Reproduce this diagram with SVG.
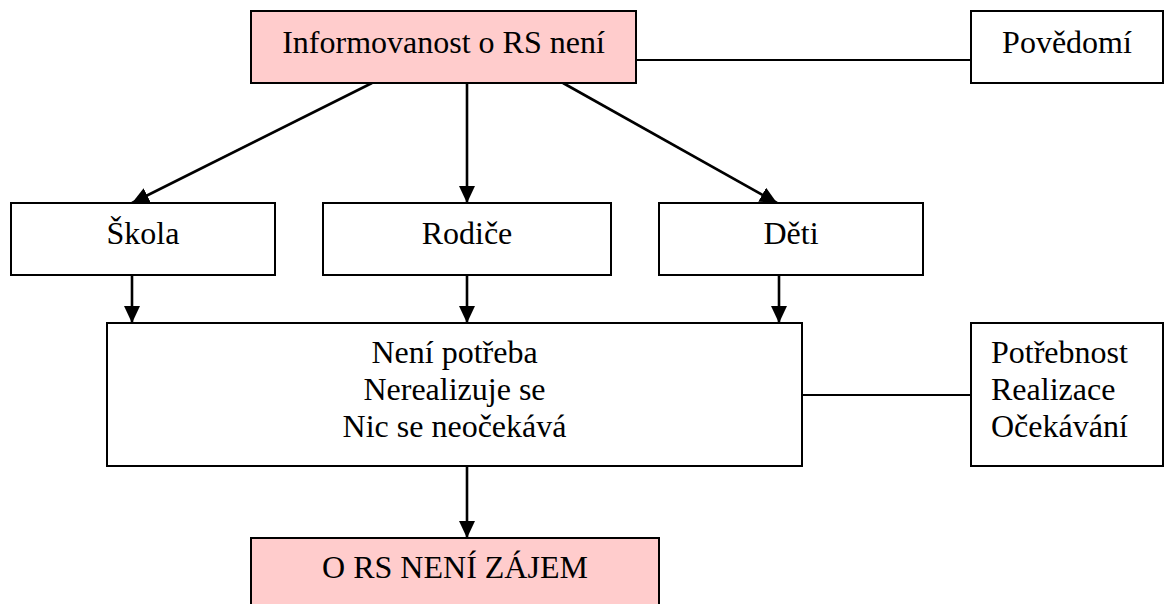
<svg xmlns="http://www.w3.org/2000/svg" width="1165" height="604" viewBox="0 0 1165 604">
<style>
.box{fill:#ffffff;stroke:#000;stroke-width:2}
.pink{fill:#ffcccc;stroke:#000;stroke-width:2}
.t{font-family:"Liberation Serif","Times New Roman",serif;font-size:32px;fill:#000}
.c{text-anchor:middle}
.arr{stroke:#000;stroke-width:2.6;fill:none;marker-end:url(#ah)}
.ln{stroke:#000;stroke-width:2;fill:none}
</style>
<defs>
<marker id="ah" markerUnits="userSpaceOnUse" markerWidth="17" markerHeight="16" refX="17" refY="8" orient="auto" viewBox="0 0 17 16">
<path d="M0,0 L17,8 L0,16 z" fill="#000"/>
</marker>
</defs>
<rect width="1165" height="604" fill="#fff"/>
<g id="connectors">
<line class="arr" x1="372" y1="83" x2="132" y2="203"/>
<line class="arr" x1="467" y1="83" x2="467" y2="203"/>
<line class="arr" x1="563" y1="83" x2="777" y2="203"/>
<line class="arr" x1="132" y1="275" x2="132" y2="323"/>
<line class="arr" x1="467" y1="275" x2="467" y2="323"/>
<line class="arr" x1="779" y1="275" x2="779" y2="323"/>
<line class="arr" x1="467" y1="466" x2="467" y2="538"/>
<line class="ln" x1="636" y1="60" x2="971" y2="60"/>
<line class="ln" x1="802" y1="395" x2="971" y2="395"/>
</g>
<g id="informovanost">
<rect class="pink" x="251" y="11" width="385" height="72"/>
<text class="t c" x="443.5" y="53">Informovanost o RS není</text>
</g>
<g id="povedomi">
<rect class="box" x="971" y="11" width="192" height="72"/>
<text class="t c" x="1067" y="53">Povědomí</text>
</g>
<g id="skola">
<rect class="box" x="11" y="203" width="264" height="72"/>
<text class="t c" x="143" y="244">Škola</text>
</g>
<g id="rodice">
<rect class="box" x="323" y="203" width="288" height="72"/>
<text class="t c" x="467" y="244">Rodiče</text>
</g>
<g id="deti">
<rect class="box" x="659" y="203" width="264" height="72"/>
<text class="t c" x="791" y="244">Děti</text>
</g>
<g id="stav">
<rect class="box" x="107" y="323" width="695" height="143"/>
<text class="t c" x="454.5" y="363">Není potřeba</text>
<text class="t c" x="454.5" y="400">Nerealizuje se</text>
<text class="t c" x="454.5" y="437">Nic se neočekává</text>
</g>
<g id="potrebnost">
<rect class="box" x="971" y="323" width="192" height="143"/>
<text class="t" x="991" y="363">Potřebnost</text>
<text class="t" x="991" y="400">Realizace</text>
<text class="t" x="991" y="437">Očekávání</text>
</g>
<g id="zajem">
<rect class="pink" x="251" y="538" width="408" height="80"/>
<text class="t c" x="455" y="578">O RS NENÍ ZÁJEM</text>
</g>
</svg>
